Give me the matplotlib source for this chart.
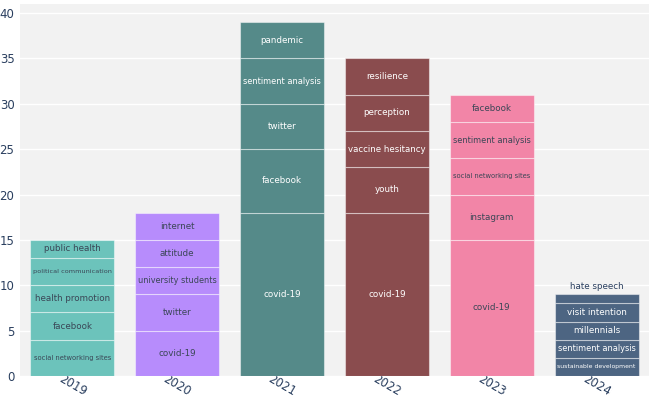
import matplotlib
matplotlib.use("Agg")
import matplotlib.pyplot as plt

years = ["2019", "2020", "2021", "2022", "2023", "2024"]

# keywords per year, bottom to top, with counts
kw_2019 = ["social networking sites", "facebook", "health promotion", "political communication", "public health"]
n_2019 = [4, 3, 3, 3, 2]
kw_2020 = ["covid-19", "twitter", "university students", "attitude", "internet"]
n_2020 = [5, 4, 3, 3, 3]
kw_2021 = ["covid-19", "facebook", "twitter", "sentiment analysis", "pandemic"]
n_2021 = [18, 7, 5, 5, 4]
kw_2022 = ["covid-19", "youth", "vaccine hesitancy", "perception", "resilience"]
n_2022 = [18, 5, 4, 4, 4]
kw_2023 = ["covid-19", "instagram", "social networking sites", "sentiment analysis", "facebook"]
n_2023 = [15, 5, 4, 4, 3]
kw_2024 = ["sustainable development", "sentiment analysis", "millennials", "visit intention", "hate speech"]
n_2024 = [2, 2, 2, 2, 1]

keywords = [kw_2019, kw_2020, kw_2021, kw_2022, kw_2023, kw_2024]
counts = [n_2019, n_2020, n_2021, n_2022, n_2023, n_2024]

colors = ["#6cc3bb", "#b78cfc", "#558a89", "#8a4c4e", "#f285a7", "#4d6582"]
text_colors = ["#3a4656", "#3a4656", "white", "white", "#3a4656", "white"]
yticks = [0, 5, 10, 15, 20, 25, 30, 35, 40]

W, H = 649, 403
fig = plt.figure(figsize=(W / 100, H / 100), dpi=100)
ax = fig.add_axes([20 / W, (H - 376) / H, 1 - 20 / W, (376 - 4) / H])
ax.set_facecolor("#f2f2f2")
ax.set_axisbelow(True)
ax.grid(axis="y", color="white", linewidth=1)
for s in ax.spines.values():
    s.set_visible(False)

bar_w = 0.8
fig.canvas.draw()
renderer = fig.canvas.get_renderer()
px_per_x = ax.bbox.width / 6.0
px_per_y = ax.bbox.height / 41.0

for i, (kws, ns) in enumerate(zip(keywords, counts)):
    bottom = 0
    for kw, n in zip(kws, ns):
        ax.bar(i, n, width=bar_w, bottom=bottom, color=colors[i],
               edgecolor=(1, 1, 1, 0.45), linewidth=0.8, zorder=2)
        seg_px = n * px_per_y
        avail = bar_w * px_per_x - 6
        fs = 6.3
        if seg_px < 11:
            t = ax.text(i, bottom + n + 0.35, kw, ha="center", va="bottom",
                        fontsize=fs, color="#2a3f5f", zorder=3)
        else:
            t = ax.text(i, bottom + n / 2, kw, ha="center", va="center",
                        fontsize=fs, color=text_colors[i], zorder=3)
        wpx = t.get_window_extent(renderer).width
        if wpx > avail:
            t.set_fontsize(fs * avail / wpx)
        bottom += n

ax.set_xlim(-0.5, 5.5)
ax.set_ylim(0, 41)
ax.set_yticks(yticks)
ax.set_xticks(range(len(years)))
ax.set_xticklabels(years, rotation=-30, ha="center", va="center", rotation_mode="anchor")
ax.tick_params(axis="both", length=0, labelsize=8.5, colors="#2a3f5f")
ax.tick_params(axis="x", pad=7)
ax.tick_params(axis="y", pad=4)

fig.savefig("out.png", dpi=100, facecolor="white")
